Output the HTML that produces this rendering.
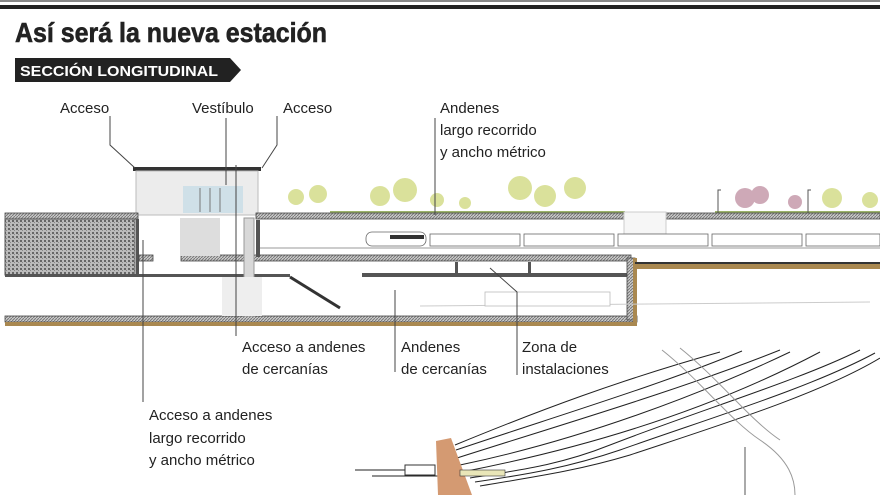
<!DOCTYPE html>
<html><head><meta charset="utf-8"><style>
html,body{margin:0;padding:0;background:#fff;width:880px;height:495px;overflow:hidden}
svg{display:block}
text{font-family:"Liberation Sans",sans-serif}
.l{font-size:15px;fill:#222}
</style></head><body>
<svg width="880" height="495" viewBox="0 0 880 495" xmlns="http://www.w3.org/2000/svg">
<defs>
<pattern id="grav" width="4" height="4" patternUnits="userSpaceOnUse"><rect width="4" height="4" fill="#bbb"/><rect x="0" y="0" width="2" height="2" fill="#666"/><rect x="2" y="2" width="1" height="1" fill="#888"/></pattern>
<pattern id="hat" width="3" height="3" patternUnits="userSpaceOnUse"><rect width="3" height="3" fill="#ccc"/><path d="M0 3L3 0" stroke="#777" stroke-width="1"/></pattern>
</defs>
<rect x="0" y="0" width="880" height="2" fill="#888"/>
<rect x="0" y="5" width="880" height="4" fill="#222"/>
<text x="15" y="42" font-size="28" font-weight="bold" fill="#222" textLength="312" lengthAdjust="spacingAndGlyphs" stroke="#222" stroke-width="0.6">Así será la nueva estación</text>
<polygon points="15,58 230,58 241,70 230,82 15,82" fill="#222"/>
<text x="20" y="76" font-size="15" font-weight="bold" fill="#fff" textLength="198" lengthAdjust="spacingAndGlyphs">SECCIÓN LONGITUDINAL</text>

<text class="l" x="60" y="113">Acceso</text>
<text class="l" x="192" y="113">Vestíbulo</text>
<text class="l" x="283" y="113">Acceso</text>
<text class="l" x="440" y="113">Andenes</text>
<text class="l" x="440" y="135">largo recorrido</text>
<text class="l" x="440" y="157">y ancho métrico</text>

<g fill="#d4dc8a" opacity="0.85">
<circle cx="296" cy="197" r="8"/><circle cx="318" cy="194" r="9"/><circle cx="380" cy="196" r="10"/><circle cx="405" cy="190" r="12"/><circle cx="437" cy="200" r="7"/><circle cx="465" cy="203" r="6"/><circle cx="520" cy="188" r="12"/><circle cx="545" cy="196" r="11"/><circle cx="575" cy="188" r="11"/><circle cx="832" cy="198" r="10"/><circle cx="870" cy="200" r="8"/>
</g>
<g fill="#c9a0b0" opacity="0.9">
<circle cx="745" cy="198" r="10"/><circle cx="760" cy="195" r="9"/><circle cx="795" cy="202" r="7"/>
</g>
<rect x="330" y="211" width="295" height="3" fill="#9cb36a"/>
<rect x="715" y="211" width="165" height="3" fill="#9cb36a"/>
<path d="M718 213V190h3M808 213V190h3" stroke="#555" fill="none"/>

<rect x="133" y="167" width="128" height="4" fill="#333"/>
<rect x="136" y="171" width="122" height="44" fill="#ececec" stroke="#bbb"/>
<rect x="183" y="186" width="60" height="27" fill="#cfe0e8"/>
<g stroke="#777"><line x1="200" y1="188" x2="200" y2="212"/><line x1="210" y1="188" x2="210" y2="212"/><line x1="220" y1="188" x2="220" y2="212"/></g>

<rect x="5" y="213" width="133" height="6" fill="url(#hat)" stroke="#444" stroke-width="0.8"/>
<rect x="256" y="213" width="368" height="6" fill="url(#hat)" stroke="#444" stroke-width="0.8"/>
<rect x="665" y="213" width="215" height="6" fill="url(#hat)" stroke="#444" stroke-width="0.8"/>
<rect x="624" y="212" width="42" height="22" fill="#f6f6f6" stroke="#ccc"/>
<rect x="5" y="219" width="130" height="56" fill="url(#grav)" stroke="#555"/>
<rect x="136" y="219" width="3" height="56" fill="#555"/>
<rect x="139" y="255" width="14" height="6" fill="url(#hat)" stroke="#444" stroke-width="0.8"/>
<rect x="181" y="255" width="450" height="6" fill="url(#hat)" stroke="#444" stroke-width="0.8"/>
<rect x="5" y="274" width="285" height="3" fill="#555"/>
<rect x="362" y="273" width="268" height="4" fill="#555"/>
<rect x="5" y="316" width="632" height="6" fill="url(#hat)" stroke="#444" stroke-width="0.8"/>
<rect x="5" y="322" width="632" height="4" fill="#a98850"/>
<rect x="627" y="258" width="8" height="62" fill="url(#hat)" stroke="#444" stroke-width="0.8"/>
<rect x="633" y="258" width="4" height="68" fill="#a98850"/>
<rect x="635" y="262" width="245" height="2" fill="#333"/>
<rect x="635" y="264" width="245" height="5" fill="#a98850"/>
<rect x="256" y="220" width="4" height="37" fill="#555"/>
<rect x="244" y="218" width="10" height="98" fill="#d8d8d8" stroke="#999"/>
<rect x="180" y="218" width="40" height="38" fill="#ddd"/>
<rect x="222" y="277" width="40" height="39" fill="#eee"/>
<path d="M290 277L340 308" stroke="#333" stroke-width="3"/>
<rect x="455" y="262" width="3" height="14" fill="#555"/><rect x="528" y="262" width="3" height="14" fill="#555"/>
<line x1="420" y1="306" x2="870" y2="302" stroke="#ccc"/>
<g stroke="#666" fill="#fff" stroke-width="0.8">
<rect x="366" y="232" width="60" height="14" rx="6"/>
<rect x="430" y="234" width="90" height="12"/><rect x="524" y="234" width="90" height="12"/><rect x="618" y="234" width="90" height="12"/><rect x="712" y="234" width="90" height="12"/><rect x="806" y="234" width="74" height="12"/>
<rect x="485" y="292" width="125" height="14" stroke="#bbb"/>
</g>
<rect x="390" y="235" width="34" height="4" fill="#333"/>
<line x1="260" y1="248" x2="880" y2="248" stroke="#999"/>

<g stroke="#444" stroke-width="1" fill="none">
<path d="M110 116V145L135 168"/>
<path d="M277 116V145L262 168"/>
<line x1="226" y1="118" x2="226" y2="185"/>
<line x1="236" y1="165" x2="236" y2="336"/>
<line x1="435" y1="118" x2="435" y2="215"/>
<line x1="143" y1="240" x2="143" y2="402"/>
<line x1="395" y1="290" x2="395" y2="372"/>
<path d="M490 268L517 292V375"/>
</g>

<text class="l" x="242" y="352">Acceso a andenes</text>
<text class="l" x="242" y="374">de cercanías</text>
<text class="l" x="401" y="352">Andenes</text>
<text class="l" x="401" y="374">de cercanías</text>
<text class="l" x="522" y="352">Zona de</text>
<text class="l" x="522" y="374">instalaciones</text>
<text class="l" x="149" y="420">Acceso a andenes</text>
<text class="l" x="149" y="443">largo recorrido</text>
<text class="l" x="149" y="465">y ancho métrico</text>

<g stroke="#222" fill="none" stroke-width="1">
<path d="M355 470H420"/><path d="M372 476H440"/>
<path d="M455 445C540 410 620 380 720 352"/>
<path d="M456 450C560 415 660 385 742 351"/>
<path d="M457 458C560 425 680 390 780 350"/>
<path d="M460 465C580 440 700 395 790 352"/>
<path d="M462 472C600 445 720 405 820 352"/>
<path d="M470 478C520 470 560 465 610 445C700 410 800 380 860 350"/>
<path d="M475 482C530 474 570 467 620 450C710 418 810 388 875 353"/>
<path d="M480 486C540 476 580 470 630 455C720 425 820 394 880 358"/>
</g>
<path d="M662 350C700 380 730 420 760 440C790 460 795 480 795 495" stroke="#999" fill="none"/>
<path d="M680 348C720 380 750 420 780 440" stroke="#999" fill="none"/>
<line x1="745" y1="447" x2="745" y2="495" stroke="#555"/>
<polygon points="436,441 451,438 472,495 438,495" fill="#d49a72"/>
<rect x="405" y="465" width="30" height="10" fill="#fff" stroke="#333"/>
<rect x="460" y="470" width="45" height="6" fill="#e9e6b8" stroke="#333" stroke-width="0.6"/>
</svg>
</body></html>
